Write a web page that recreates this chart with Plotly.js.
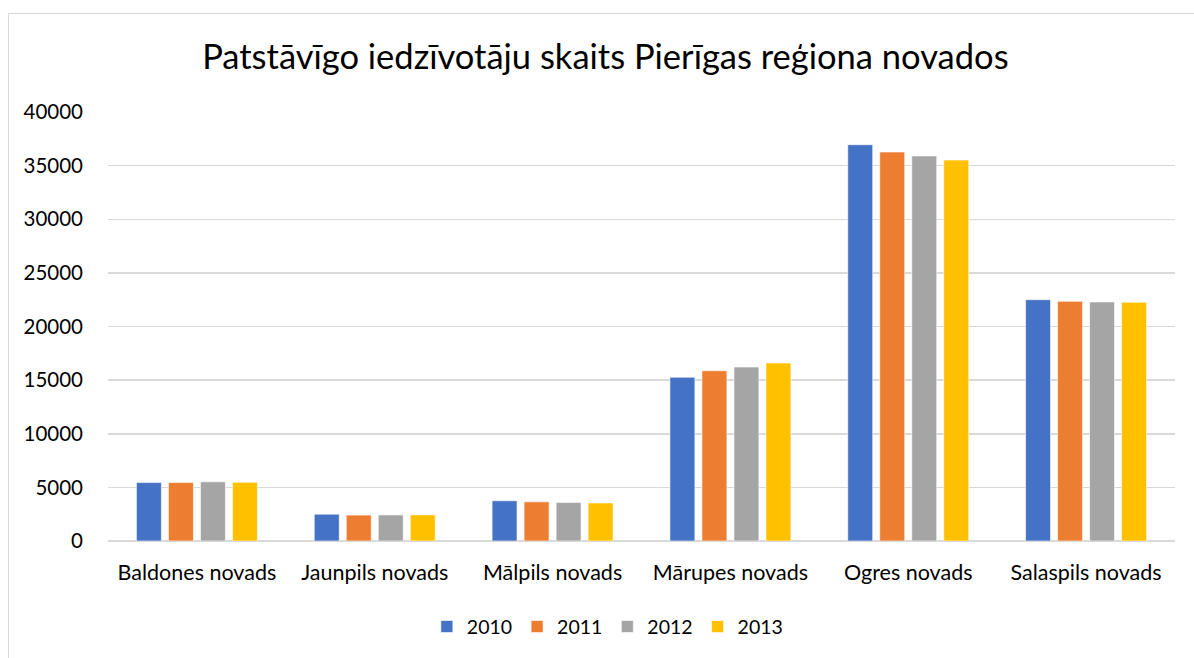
<!DOCTYPE html>
<html>
<head>
<meta charset="utf-8">
<script src="https://cdn.plot.ly/plotly-3.0.1.min.js"></script>
<style>
body{margin:0;padding:0;background:#fff;}
#wrap{position:relative;width:1194px;height:658px;overflow:hidden;}
#chart{width:1194px;height:658px;}
#frame{position:absolute;left:8px;top:13px;width:1200px;height:660px;border:1px solid #d9d9d9;pointer-events:none;}
</style>
</head>
<body>
<div id="wrap"><div id="chart"></div><div id="frame"></div></div>
<script>
const categories = ["Baldones novads","Jaunpils novads","Mālpils novads","Mārupes novads","Ogres novads","Salaspils novads"];
const years = ["2010","2011","2012","2013"];
const v2010 = [5450, 2500, 3750, 15270, 36950, 22500];
const v2011 = [5460, 2420, 3650, 15880, 36270, 22350];
const v2012 = [5520, 2430, 3600, 16220, 35900, 22290];
const v2013 = [5470, 2440, 3550, 16600, 35520, 22260];
const colors = ["#4472c4","#ed7d31","#a5a5a5","#ffc000"];
const series = [v2010, v2011, v2012, v2013];

const font = "Lato, 'Open Sans', sans-serif";
const traces = series.map((vals, i) => ({
  type: "bar",
  name: years[i],
  x: categories,
  y: vals,
  marker: {color: colors[i], line: {color: "rgba(255,255,255,0.6)", width: 1}},
  hoverinfo: "y"
}));

const layout = {
  width: 1194, height: 658,
  margin: {l: 108, r: 19, t: 112, b: 117},
  paper_bgcolor: "#fff", plot_bgcolor: "#fff",
  font: {family: font, size: 20, color: "#000"},
  title: {text: "Patstāvīgo iedzīvotāju skaits Pierīgas reģiona novados",
    font: {family: font, size: 34.5, color: "#000"},
    x: 0.507, xanchor: "center", xref: "container",
    y: 0.913, yanchor: "middle", yref: "container"},
  barmode: "group",
  bargap: 0.28,
  bargroupgap: 0.22,
  xaxis: {showgrid: false, showline: false, zeroline: false, ticks: "",
    tickfont: {family: font, size: 21.5, color: "#000"}, ticklabelstandoff: 16},
  yaxis: {range: [0, 40000], dtick: 5000, showgrid: true, gridcolor: "#d9d9d9", gridwidth: 1.5,
    zeroline: true, zerolinecolor: "#d9d9d9", zerolinewidth: 1.5, showline: false, ticks: "",
    tickformat: "d", separatethousands: false,
    tickfont: {family: font, size: 20.5, color: "#000"}, ticklabelstandoff: 24},
  legend: {orientation: "h", x: 0.468, xanchor: "center", y: -0.2, yanchor: "middle",
    font: {family: font, size: 19.5, color: "#000"}, itemwidth: 30, traceorder: "normal"},
  showlegend: true
};

Plotly.newPlot("chart", traces, layout, {displayModeBar: false, staticPlot: true});
</script>
</body>
</html>
